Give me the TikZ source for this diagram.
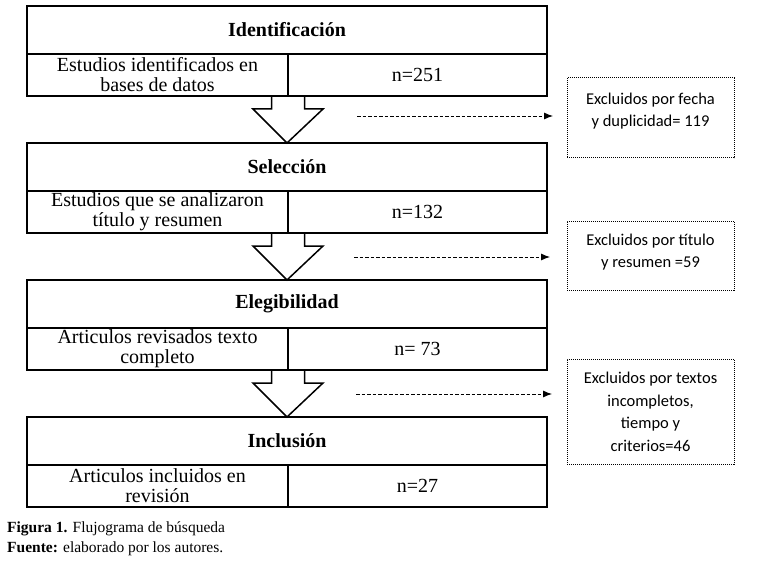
\documentclass[tikz,border=0pt]{standalone}
\usepackage{fontspec}
\setmainfont{Liberation Serif}
\newfontfamily\calib{Carlito}
\usetikzlibrary{arrows.meta,calc}
\begin{document}
\begin{tikzpicture}[x=1pt,y=-1pt,
  hdr/.style={draw, line width=1.5pt, minimum width=520pt, minimum height=48pt, inner sep=0pt, outer sep=0pt, anchor=north west, font=\fontsize{20}{20}\selectfont\bfseries},
  cellL/.style={draw, line width=1.5pt, minimum width=261pt, minimum height=42pt, inner sep=0pt, outer sep=0pt, anchor=north west, align=center, font=\fontsize{20}{20}\selectfont},
  cellR/.style={draw, line width=1.5pt, minimum width=259pt, minimum height=42pt, inner sep=0pt, outer sep=0pt, anchor=north west, align=center, font=\fontsize{20}{20}\selectfont},
  blockarrow/.style={draw, line width=1.5pt, line join=miter},
  dasharrow/.style={line width=0.9pt, dash pattern=on 3.5pt off 2pt, -{Latex[length=9pt,width=7pt]}},
  exbox/.style={draw, line width=1pt, dash pattern=on 1pt off 1pt, inner sep=0pt, minimum width=167pt},
  extext/.style={align=center, inner sep=0pt, font=\calib\fontsize{16.5}{22.5}\selectfont},
  captext/.style={anchor=base west, inner sep=0pt, font=\fontsize{15.5}{18}\selectfont}
]
\useasboundingbox (0,0) rectangle (784,564);
\fill[white] (0,0) rectangle (784,564);

% Block 1
\node[hdr] (h1) at (27,6) {Identificación};
\node[cellL] (l1) at (27,54) {Estudios identificados en\\bases de datos};
\node[cellR] (r1) at (288,54) {n=251};
% Block 2
\node[hdr] (h2) at (27,143) {Selección};
\node[cellL] (l2) at (27,191) {Estudios que se analizaron\\título y resumen};
\node[cellR] (r2) at (288,191) {n=132};
% Block 3
\node[hdr] (h3) at (27,280) {Elegibilidad};
\node[cellL] (l3) at (27,328) {Articulos revisados texto\\completo};
\node[cellR] (r3) at (288,328) {n= 73};
% Block 4
\node[hdr] (h4) at (27,417) {Inclusión};
\node[cellL] (l4) at (27,465) {Articulos incluidos en\\revisión};
\node[cellR] (r4) at (288,465) {n=27};

% Block arrows
\draw[blockarrow] ($(l1.south east)+(-16.5,0)$) -- ++(0,13) -- ++(-18.5,0) -- (h2.north)
  -- ($(l1.south east)+(35,13)$) -- ++(-18.5,0) -- ++(0,-13);
\draw[blockarrow] ($(l2.south east)+(-16.5,0)$) -- ++(0,13) -- ++(-18.5,0) -- (h3.north)
  -- ($(l2.south east)+(35,13)$) -- ++(-18.5,0) -- ++(0,-13);
\draw[blockarrow] ($(l3.south east)+(-16.5,0)$) -- ++(0,13) -- ++(-18.5,0) -- (h4.north)
  -- ($(l3.south east)+(35,13)$) -- ++(-18.5,0) -- ++(0,-13);

% Excluded boxes
\node[exbox, minimum height=80pt] (e1) at (650.5,118) {};
\node[extext] (t1) at (650.5,111) {Excluidos por fecha\\y duplicidad= 119};
\node[exbox, minimum height=69pt] (e2) at (650.5,255.5) {};
\node[extext] (t2) at (650.5,252) {Excluidos por título\\y resumen =59};
\node[exbox, minimum height=105pt] (e3) at (650.5,411.5) {};
\node[extext] (t3) at (650.5,412) {Excluidos por textos\\incompletos,\\tiempo y\\criterios=46};

% Dashed arrows
\coordinate (a1s) at (357,116); \coordinate (a1e) at (553,116);
\coordinate (a2s) at (354,257); \coordinate (a2e) at (550,257);
\coordinate (a3s) at (356,394); \coordinate (a3e) at (552,394);
\draw[dasharrow] (a1s) -- (a1e);
\draw[dasharrow] (a2s) -- (a2e);
\draw[dasharrow] (a3s) -- (a3e);

% Caption
\node[captext] (cap1) at (7,532) {\textbf{Figura 1.} Flujograma de búsqueda};
\node[captext] (cap2) at (7,552) {\textbf{Fuente:} elaborado por los autores.};
\end{tikzpicture}
\end{document}
